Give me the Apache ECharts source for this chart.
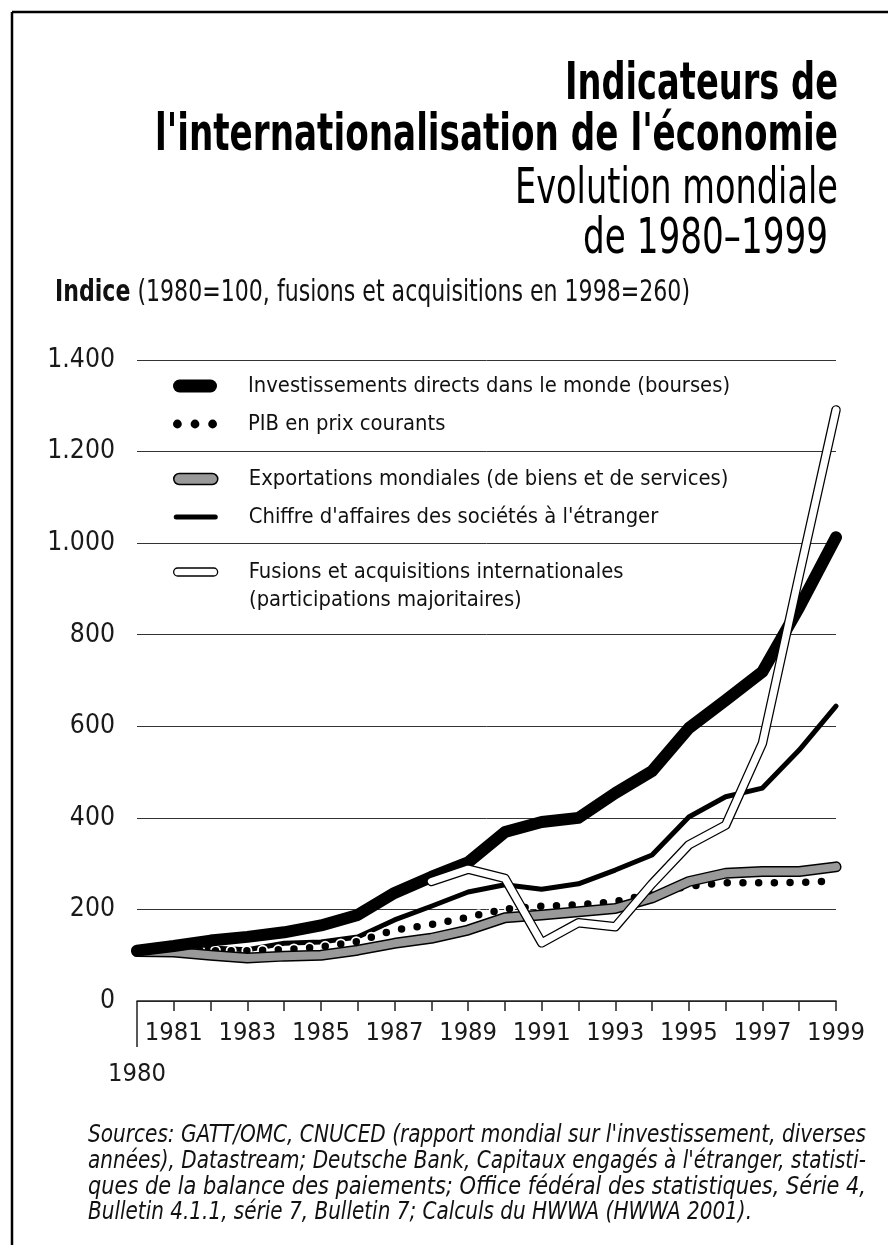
<!DOCTYPE html>
<html><head><meta charset="utf-8">
<script src="https://cdn.jsdelivr.net/npm/echarts@6/dist/echarts.min.js"></script>
<style>html,body{margin:0;padding:0;background:#fff}#c{width:890px;height:1245px}</style>
</head><body><div id="c"></div>
<script>
// ---------- data ----------
const years = [1980,1981,1982,1983,1984,1985,1986,1987,1988,1989,1990,1991,1992,1993,1994,1995,1996,1997,1998,1999];
const investissements = [110,120,132,140,150,165,188,236,271,303,369,391,400,454,502,596,657,719,860,1013];
const pib = [110,111,110,110,112,118,130,155,167,183,201,207,210,217,234,251,258,258,259,262];
const exportations = [108,107,100,94,98,100,111,126,137,155,182,188,195,202,225,261,279,283,283,293];
const chiffre = [110,118,116,112,126,129,140,177,207,238,254,244,256,286,319,402,446,465,548,644];
const fusions = [null,null,null,null,null,null,null,null,261,288,268,127,171,162,256,341,384,563,930,1291];
const xLabelYears = [1981,1983,1985,1987,1989,1991,1993,1995,1997,1999];
const firstYearLabel = 1980;
const yTickValues = [0,200,400,600,800,1000,1200,1400];
const yTickLabels = ['0','200','400','600','800','1.000','1.200','1.400'];

const names = {
  inv: 'Investissements directs dans le monde (bourses)',
  pib: 'PIB en prix courants',
  exp: 'Exportations mondiales (de biens et de services)',
  chf: "Chiffre d'affaires des sociétés à l'étranger",
  fus: 'Fusions et acquisitions internationales\n(participations majoritaires)'
};

// ---------- fonts ----------
const mctx = document.createElement('canvas').getContext('2d');
function tw(text, font){ mctx.font = font; return mctx.measureText(text).width; }
function has(name){
  const t = 'mmmmmmmmmmlli1WQ0123456789abc';
  return tw(t, '40px monospace') !== tw(t, "40px '" + name + "', monospace") ||
         tw(t, '40px serif') !== tw(t, "40px '" + name + "', serif");
}
const FAM = ['Liberation Sans Narrow','DejaVu Sans Condensed','Arial Narrow','Liberation Sans','Roboto'].find(has) || 'sans-serif';
const FF = "'" + FAM + "'";

function pairs(vals){ return years.map((y,i)=>[y, vals[i]]).filter(d=>d[1]!=null); }

// legend font size fitted to reference width
let lfs = 25;
const lw = tw(names.inv, lfs + 'px ' + FF);
if (lw > 490) lfs = Math.floor(25 * 483 / lw * 10) / 10;

// axis font size: keep year labels from crowding
let afs = 27;
const aw = tw('1999', afs + 'px ' + FF);
if (aw > 58) afs = Math.max(25, Math.floor(afs * 58 / aw * 10) / 10);

// ---------- text helpers ----------
function fitted(text, font, target){ return target / tw(text, font); }
function rightText(text, font, right, y, target){
  return { type:'text', x:right, y:y, scaleX: fitted(text, font, target), silent:true,
    style:{ text:text, font:font, fill:'#000', align:'right', verticalAlign:'middle', textAlign:'right', textVerticalAlign:'middle' } };
}
function leftText(text, font, left, y, target, fill){
  return { type:'text', x:left, y:y, scaleX: target ? fitted(text, font, target) : 1, silent:true,
    style:{ text:text, font:font, fill:fill || '#111', align:'left', verticalAlign:'middle', textAlign:'left', textVerticalAlign:'middle' } };
}

const tBold = 'bold 51px ' + FF;
const tReg = '50px ' + FF;
const graphics = [
  { type:'line', silent:true, shape:{x1:12,y1:12,x2:888,y2:12}, style:{stroke:'#000', lineWidth:2.5} },
  { type:'line', silent:true, shape:{x1:12,y1:12,x2:12,y2:1245}, style:{stroke:'#000', lineWidth:2.5} },
  rightText('Indicateurs de', tBold, 838, 86, 273),
  rightText("l'internationalisation de l'économie", tBold, 838, 137, 683),
  rightText('Evolution mondiale', tReg, 838, 190, 323),
  rightText('de 1980–1999', tReg, 828, 240, 245)
];
// Indice line (rich)
(function(){
  const fs = 30;
  const b = 'bold ' + fs + 'px ' + FF, r = fs + 'px ' + FF;
  const rest = ' (1980=100, fusions et acquisitions en 1998=260)';
  const wsum = tw('Indice', b) + tw(rest, r);
  graphics.push({ type:'text', x:55, y:293, scaleX: 635 / wsum, silent:true,
    style:{ text:'{b|Indice}' + rest, font:r, fill:'#111', align:'left', verticalAlign:'middle', textAlign:'left', textVerticalAlign:'middle',
      rich:{ b:{ fontWeight:'bold', fontSize:fs, fontFamily:FAM, fill:'#111' } } } });
})();
// second line of the last legend entry
graphics.push(leftText(names.fus.split('\n')[1], lfs + 'px ' + FF, 249, 600, 0, '#111'));
// Sources
const srcFont = 'italic 25px ' + FF;
const srcLines = [
  ["Sources: GATT/OMC, CNUCED (rapport mondial sur l'investissement, diverses", 1135, 778],
  ["années), Datastream; Deutsche Bank, Capitaux engagés à l'étranger, statisti-", 1161, 778],
  ["ques de la balance des paiements; Office fédéral des statistiques, Série 4,", 1187, 778],
  ["Bulletin 4.1.1, série 7, Bulletin 7; Calculs du HWWA (HWWA 2001).", 1212, 664]
];
srcLines.forEach(l => graphics.push(leftText(l[0], srcFont, 88, l[1], l[2])));

// ---------- legend icons ----------
function pill(w, h){
  const r = h/2;
  return 'path://M' + r + ',0L' + (w-r) + ',0A' + r + ',' + r + ',0,0,1,' + (w-r) + ',' + h + 'L' + r + ',' + h + 'A' + r + ',' + r + ',0,0,1,' + r + ',0Z';
}
const dotsIcon = 'path://M0,4A4,4,0,1,0,8,4A4,4,0,1,0,0,4ZM16,4A4,4,0,1,0,24,4A4,4,0,1,0,16,4ZM32,4A4,4,0,1,0,40,4A4,4,0,1,0,32,4Z';

function legendBase(top){
  return { orient:'vertical', left:173, top:top, padding:0, itemGap:14, itemWidth:44, itemHeight:14,
    selectedMode:false, symbolKeepAspect:true,
    textStyle:{ fontFamily:FAM, fontSize:lfs, color:'#111', lineHeight:24, padding:[0,0,0,26] } };
}
const lg1 = legendBase(374);
lg1.data = [
  { name:names.inv, icon:pill(44,13), itemStyle:{ color:'#000', borderWidth:0 } },
  { name:names.pib, icon:dotsIcon, itemStyle:{ color:'#000', borderWidth:0 } }
];
const lg2 = legendBase(467);
lg2.data = [
  { name:names.exp, icon:pill(44,11), itemStyle:{ color:'#999', borderColor:'#000', borderWidth:1.5 } },
  { name:names.chf, icon:pill(44,5), itemStyle:{ color:'#000', borderWidth:0 } }
];
const lg3 = legendBase(560);
lg3.formatter = n => n.split('\n')[0];
lg3.data = [
  { name:names.fus, icon:pill(44,8), itemStyle:{ color:'#fff', borderColor:'#000', borderWidth:1.3 } }
];

function line(name, vals, color, width, extra){
  return Object.assign({ type:'line', name:name, data:pairs(vals), symbol:'none', silent:true, clip:false,
    lineStyle:{ color:color, width:width, cap:'round', join:'round' }, itemStyle:{ color:color }, z:2 }, extra || {});
}
const dotted = [0, 15.7];
const series = [
  line(names.chf, chiffre, '#000', 5),
  line('pib_halo', pib, '#fff', 11, { lineStyle:{ color:'#fff', width:11, cap:'round', type:dotted } }),
  line(names.pib, pib, '#000', 7.5, { lineStyle:{ color:'#000', width:7.5, cap:'round', type:dotted } }),
  line('exp_outline', exportations, '#000', 11),
  line(names.exp, exportations, '#999', 8),
  line(names.inv, investissements, '#000', 12),
  line('fus_outline', fusions, '#000', 9.5),
  line(names.fus, fusions, '#fff', 7)
];

const axisFont = { fontFamily:FAM, fontSize:afs, color:'#1a1a1a' };
const option = {
  animation:false,
  backgroundColor:'#fff',
  grid:{ left:137, right:54, top:360, bottom:244, outerBoundsMode:'none' },
  xAxis:[
    { type:'value', min:years[0], max:years[years.length-1], interval:1,
      axisLine:{ show:true, onZero:false, lineStyle:{ color:'#222', width:1.5 } },
      axisTick:{ show:true, length:10, customValues:years, lineStyle:{ color:'#222', width:1.5 } },
      axisLabel:Object.assign({ customValues:xLabelYears, margin:20, formatter:v=>String(v) }, axisFont),
      splitLine:{ show:false } },
    { type:'value', min:years[0], max:years[years.length-1], position:'bottom',
      axisLine:{ show:false, onZero:false },
      axisTick:{ show:true, length:46, customValues:[firstYearLabel], lineStyle:{ color:'#222', width:1.5 } },
      axisLabel:Object.assign({ customValues:[firstYearLabel], margin:61, formatter:v=>String(v) }, axisFont),
      splitLine:{ show:false } }
  ],
  yAxis:{ type:'value', min:0, max:1400, interval:200,
    axisLine:{ show:false }, axisTick:{ show:false },
    splitLine:{ show:true, lineStyle:{ color:'#333', width:1 } },
    axisLabel:Object.assign({ margin:22,
      formatter:v=>{ const i = yTickValues.indexOf(v); return i >= 0 ? yTickLabels[i] : ''; } }, axisFont, { fontSize: afs + 1 }) },
  legend:[lg1, lg2, lg3],
  series:series,
  graphic:graphics
};
const chart = echarts.init(document.getElementById('c'), null, { renderer:'canvas' });
chart.setOption(option);
</script></body></html>
